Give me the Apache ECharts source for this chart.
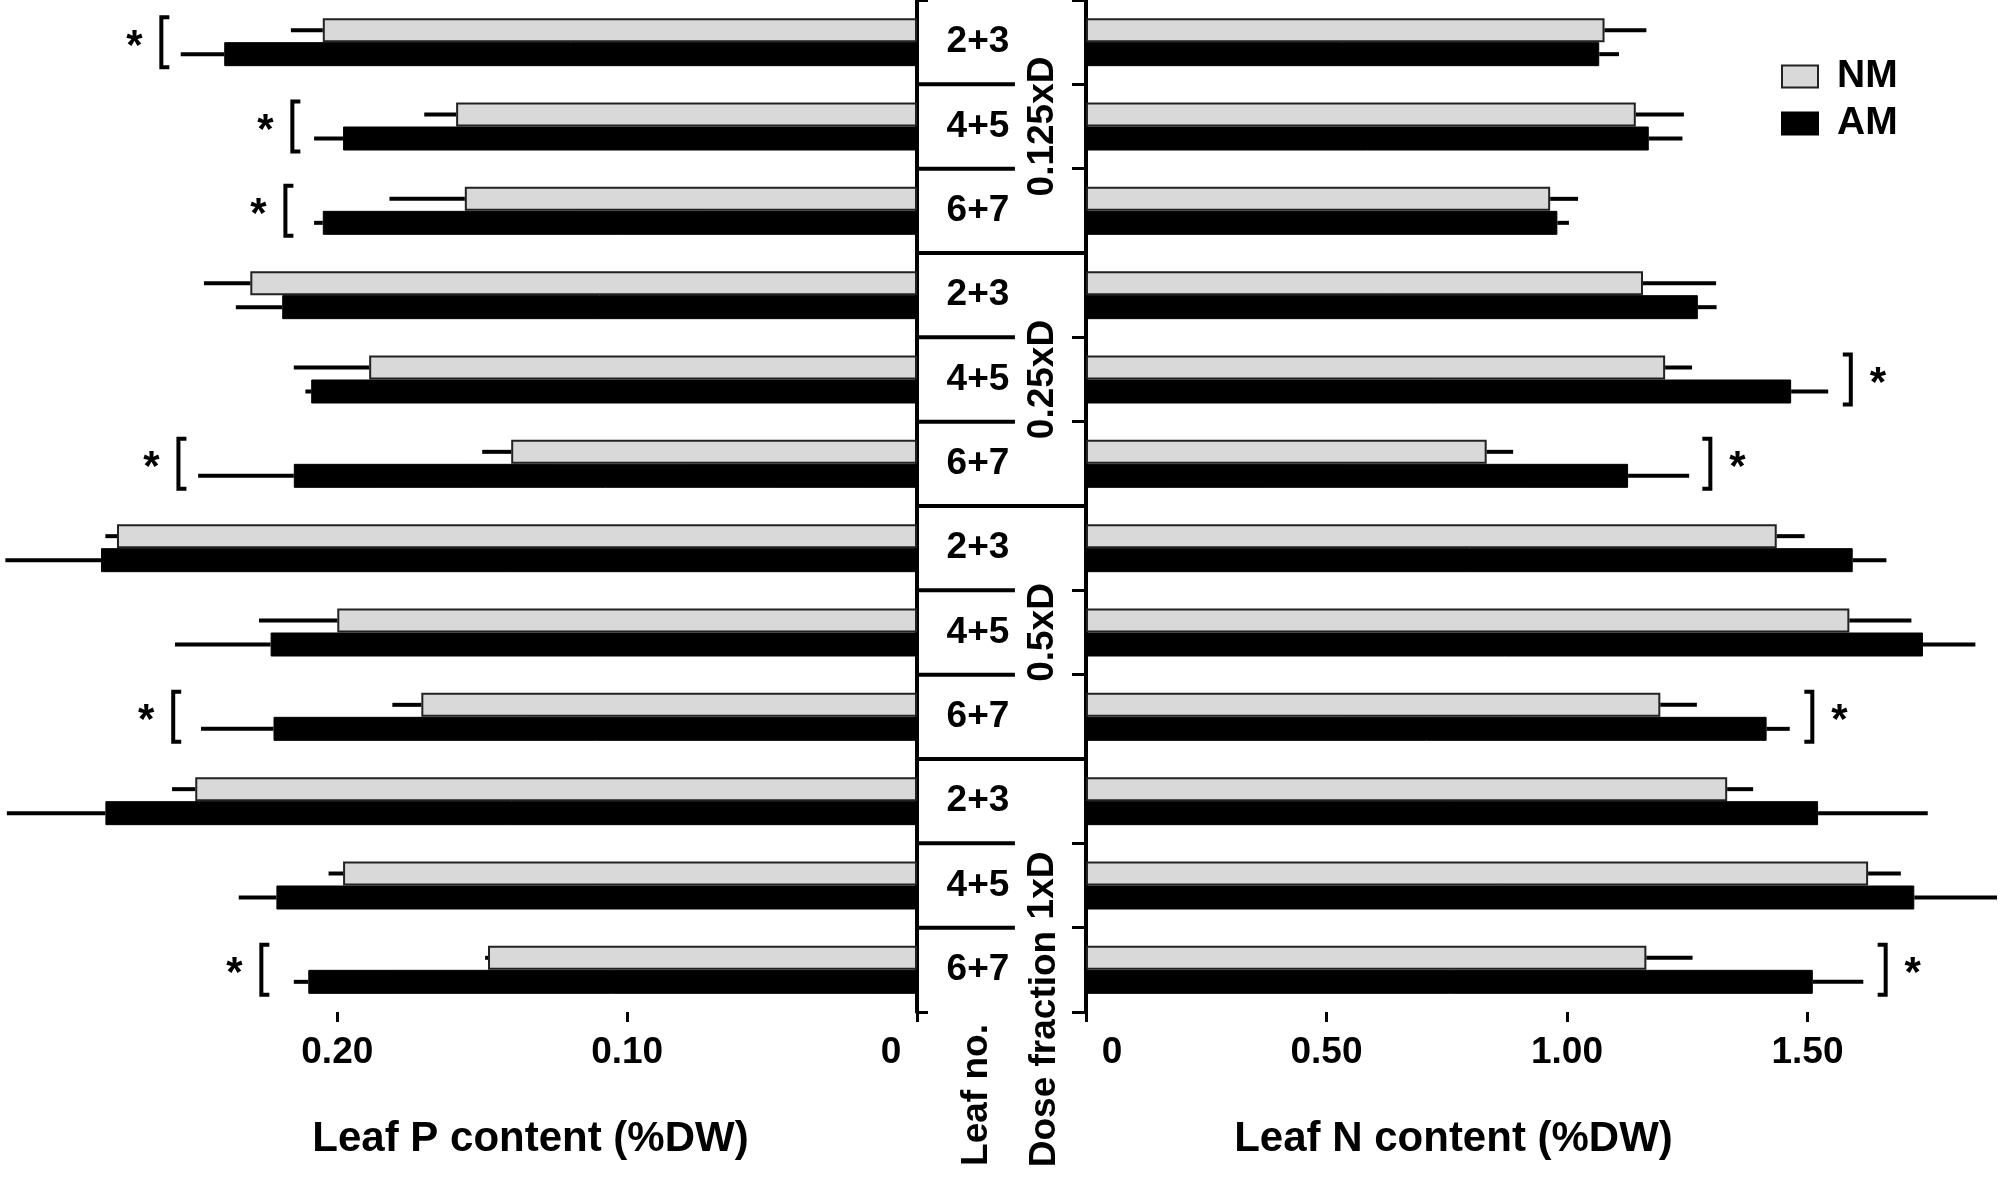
<!DOCTYPE html>
<html>
<head>
<meta charset="utf-8">
<title>Leaf P and N content</title>
<script src="https://cdn.jsdelivr.net/npm/echarts@6/dist/echarts.min.js"></script>
<style>
  html, body { margin: 0; padding: 0; background: #fff; }
  #chart { width: 2003px; height: 1178px; }
</style>
</head>
<body>
<div id="chart"></div>
<script>
// rows, top to bottom
const leafNo = ['2+3', '4+5', '6+7', '2+3', '4+5', '6+7', '2+3', '4+5', '6+7', '2+3', '4+5', '6+7']
const doseGroups = ['0.125xD', '0.25xD', '0.5xD', '1xD']
const rowDose = [0, 0, 0, 1, 1, 1, 2, 2, 2, 3, 3, 3]

// Leaf P content (%DW)
const pNM = [0.205, 0.159, 0.156, 0.230, 0.189, 0.140, 0.276, 0.200, 0.171, 0.249, 0.198, 0.148]
const pNMErr = [0.011, 0.011, 0.026, 0.016, 0.026, 0.010, 0.004, 0.027, 0.010, 0.008, 0.005, 0.001]
const pAM = [0.239, 0.198, 0.205, 0.219, 0.209, 0.215, 0.2815, 0.223, 0.222, 0.280, 0.221, 0.210]
const pAMErr = [0.015, 0.010, 0.003, 0.016, 0.002, 0.033, 0.033, 0.033, 0.025, 0.034, 0.013, 0.005]

// Leaf N content (%DW)
const nNM = [1.078, 1.143, 0.965, 1.158, 1.204, 0.833, 1.436, 1.587, 1.194, 1.333, 1.626, 1.165]
const nNMErr = [0.087, 0.100, 0.058, 0.152, 0.056, 0.055, 0.058, 0.129, 0.076, 0.054, 0.068, 0.096]
const nAM = [1.067, 1.170, 0.980, 1.272, 1.466, 1.127, 1.594, 1.740, 1.415, 1.522, 1.722, 1.511]
const nAMErr = [0.041, 0.070, 0.024, 0.039, 0.077, 0.127, 0.070, 0.109, 0.048, 0.228, 0.172, 0.105]

// significance brackets: row index and where the bracket stands on the value axis
const pSigRows = [0, 1, 2, 5, 8, 11]
const pSigAt = [0.2607, 0.2155, 0.2179, 0.2548, 0.2566, 0.2262]
const nSigRows = [4, 5, 8, 11]
const nSigAt = [1.590, 1.298, 1.510, 1.6625]

const FONT = '"Liberation Sans", Arial, sans-serif'
const BAR_W = 24

const chart = echarts.init(document.getElementById('chart'))

// error bar items: [mean, row, err, side]  side -1 = NM (upper), +1 = AM (lower)
function errData(nm, nmErr, am, amErr) {
  const out = []
  nm.forEach((v, i) => out.push([v, i, nmErr[i], -1]))
  am.forEach((v, i) => out.push([v, i, amErr[i], 1]))
  return out
}

function renderErr(params, api) {
  const v = api.value(0)
  const row = api.value(1)
  const e = api.value(2)
  const side = api.value(3)
  const a = api.coord([v, row])
  const b = api.coord([v + e, row])
  const y = a[1] + side * BAR_W / 2
  return {
    type: 'line',
    shape: { x1: a[0], y1: y, x2: b[0], y2: y },
    style: { stroke: '#000', lineWidth: 4 },
  }
}

// dir = 1: caps point right (left panel), dir = -1: caps point left
function bracketRenderer(dir) {
  return function (params, api) {
    const p = api.coord([api.value(0), api.value(1)])
    const x = p[0]
    const y = p[1]
    const h = 25
    const cap = 8
    return {
      type: 'group',
      children: [
        {
          type: 'polyline',
          shape: { points: [[x + cap * dir, y - h], [x, y - h], [x, y + h], [x + cap * dir, y + h]] },
          style: { stroke: '#000', lineWidth: 4, fill: null },
        },
        {
          type: 'text',
          x: x - 27 * dir,
          y: y + 5,
          style: {
            text: '*', fill: '#000', font: 'bold 42px ' + FONT,
            textAlign: 'center', textVerticalAlign: 'middle',
          },
        },
      ],
    }
  }
}

// separators between rows in the middle column
const sepData = []
for (let r = 0; r < leafNo.length - 1; r++) {
  sepData.push([0, r, rowDose[r] !== rowDose[r + 1] ? 1 : 0])
}

function renderSep(params, api) {
  const row = api.value(1)
  const full = api.value(2)
  const band = api.size([0, 1])[1]
  const a = api.coord([0, row])
  const b = api.coord([full ? 1 : 0.576, row])
  const y = a[1] + band / 2
  return {
    type: 'line',
    shape: { x1: a[0], y1: y, x2: b[0], y2: y },
    style: { stroke: '#000', lineWidth: 4 },
  }
}

const tickFmt = (v) => (v === 0 ? '{z|0}' : v.toFixed(2))
const labelBase = { color: '#000', fontFamily: FONT, fontWeight: 'bold', fontSize: 37 }
const axisLineStyle = { lineStyle: { color: '#000', width: 4 } }

const nmStyle = { color: '#d9d9d9', borderColor: '#222', borderWidth: 2 }
const amStyle = { color: '#000', borderColor: '#000', borderWidth: 1 }

const option = {
  animation: false,
  backgroundColor: '#fff',
  textStyle: { fontFamily: FONT },
  legend: {
    orient: 'vertical',
    left: 1776,
    top: 52,
    itemWidth: 36,
    itemHeight: 22,
    itemGap: 8,
    icon: 'rect',
    data: ['NM', 'AM'],
    textStyle: { color: '#000', fontFamily: FONT, fontWeight: 'bold', fontSize: 39, padding: [0, 0, 0, 14] },
  },
  grid: [
    { left: 88, right: 1086, top: 0, bottom: 166, outerBoundsMode: 'none' },
    { left: 1086, right: 56, top: 0, bottom: 166, outerBoundsMode: 'none' },
    { left: 917, right: 916, top: 0, bottom: 166, outerBoundsMode: 'none' },
  ],
  xAxis: [
    {
      gridIndex: 0, type: 'value', inverse: true, min: 0, max: 0.286, interval: 0.1,
      axisLine: axisLineStyle,
      axisTick: { show: true, length: 10, lineStyle: { color: '#000', width: 3 } },
      splitLine: { show: false },
      axisLabel: {
        ...labelBase, margin: 22, formatter: tickFmt, showMaxLabel: false,
        rich: { z: { ...labelBase, padding: [0, 52, 0, 0] } },
      },
      name: 'Leaf P content (%DW)',
      nameLocation: 'middle',
      nameGap: 106,
      nameTextStyle: { ...labelBase, fontSize: 42, padding: [0, 0, 0, 56] },
    },
    {
      gridIndex: 1, type: 'value', min: 0, max: 1.79, interval: 0.5,
      axisLine: axisLineStyle,
      axisTick: { show: true, length: 10, lineStyle: { color: '#000', width: 3 } },
      splitLine: { show: false },
      axisLabel: {
        ...labelBase, margin: 22, formatter: tickFmt, showMaxLabel: false,
        rich: { z: { ...labelBase, padding: [0, 0, 0, 52] } },
      },
      name: 'Leaf N content (%DW)',
      nameLocation: 'middle',
      nameGap: 106,
      nameTextStyle: { ...labelBase, fontSize: 42, padding: [0, 126, 0, 0] },
    },
    {
      gridIndex: 2, type: 'value', min: 0, max: 1, show: false,
    },
  ],
  yAxis: [
    {
      gridIndex: 0, type: 'category', data: leafNo, inverse: true, position: 'right',
      axisLine: axisLineStyle,
      axisTick: { show: true, length: 11, lineStyle: { color: '#000', width: 3 } },
      axisLabel: { show: false },
      splitLine: { show: false },
    },
    {
      gridIndex: 1, type: 'category', data: leafNo, inverse: true, position: 'left',
      axisLine: axisLineStyle,
      axisTick: { show: true, length: 14, lineStyle: { color: '#000', width: 3 } },
      axisLabel: { show: false },
      splitLine: { show: false },
    },
    {
      gridIndex: 2, type: 'category', data: leafNo, inverse: true, position: 'left',
      axisLine: { show: false },
      axisTick: { show: false },
      splitLine: { show: false },
      axisLabel: { ...labelBase, inside: true, interval: 0, margin: 61, align: 'center', verticalAlign: 'middle' },
    },
    {
      gridIndex: 2, type: 'category', data: doseGroups, inverse: true, position: 'right',
      axisLine: { show: false },
      axisTick: { show: false },
      splitLine: { show: false },
      axisLabel: {
        ...labelBase, inside: true, interval: 0, rotate: 90, margin: 44,
        align: 'center', verticalAlign: 'middle',
      },
    },
  ],
  graphic: [
    {
      type: 'text', x: 977, y: 1095, rotation: Math.PI / 2,
      style: { text: 'Leaf no.', fill: '#000', font: 'bold 37px ' + FONT, textAlign: 'center', textVerticalAlign: 'middle' },
    },
    {
      type: 'text', x: 1045, y: 1049, rotation: Math.PI / 2,
      style: { text: 'Dose fraction', fill: '#000', font: 'bold 37px ' + FONT, textAlign: 'center', textVerticalAlign: 'middle' },
    },
  ],
  series: [
    { name: 'NM', type: 'bar', xAxisIndex: 0, yAxisIndex: 0, data: pNM, barWidth: BAR_W, barGap: '0%', itemStyle: nmStyle },
    { name: 'AM', type: 'bar', xAxisIndex: 0, yAxisIndex: 0, data: pAM, barWidth: BAR_W, barGap: '0%', itemStyle: amStyle },
    { name: 'NM', type: 'bar', xAxisIndex: 1, yAxisIndex: 1, data: nNM, barWidth: BAR_W, barGap: '0%', itemStyle: nmStyle },
    { name: 'AM', type: 'bar', xAxisIndex: 1, yAxisIndex: 1, data: nAM, barWidth: BAR_W, barGap: '0%', itemStyle: amStyle },
    {
      type: 'custom', xAxisIndex: 0, yAxisIndex: 0, clip: false, z: 3,
      data: errData(pNM, pNMErr, pAM, pAMErr), renderItem: renderErr,
    },
    {
      type: 'custom', xAxisIndex: 1, yAxisIndex: 1, clip: false, z: 3,
      data: errData(nNM, nNMErr, nAM, nAMErr), renderItem: renderErr,
    },
    {
      type: 'custom', xAxisIndex: 0, yAxisIndex: 0, clip: false, z: 3,
      data: pSigRows.map((r, i) => [pSigAt[i], r]), renderItem: bracketRenderer(1),
    },
    {
      type: 'custom', xAxisIndex: 1, yAxisIndex: 1, clip: false, z: 3,
      data: nSigRows.map((r, i) => [nSigAt[i], r]), renderItem: bracketRenderer(-1),
    },
    {
      type: 'custom', xAxisIndex: 2, yAxisIndex: 2, clip: false, z: 3,
      data: sepData, renderItem: renderSep,
    },
  ],
}

chart.setOption(option)
</script>
</body>
</html>
